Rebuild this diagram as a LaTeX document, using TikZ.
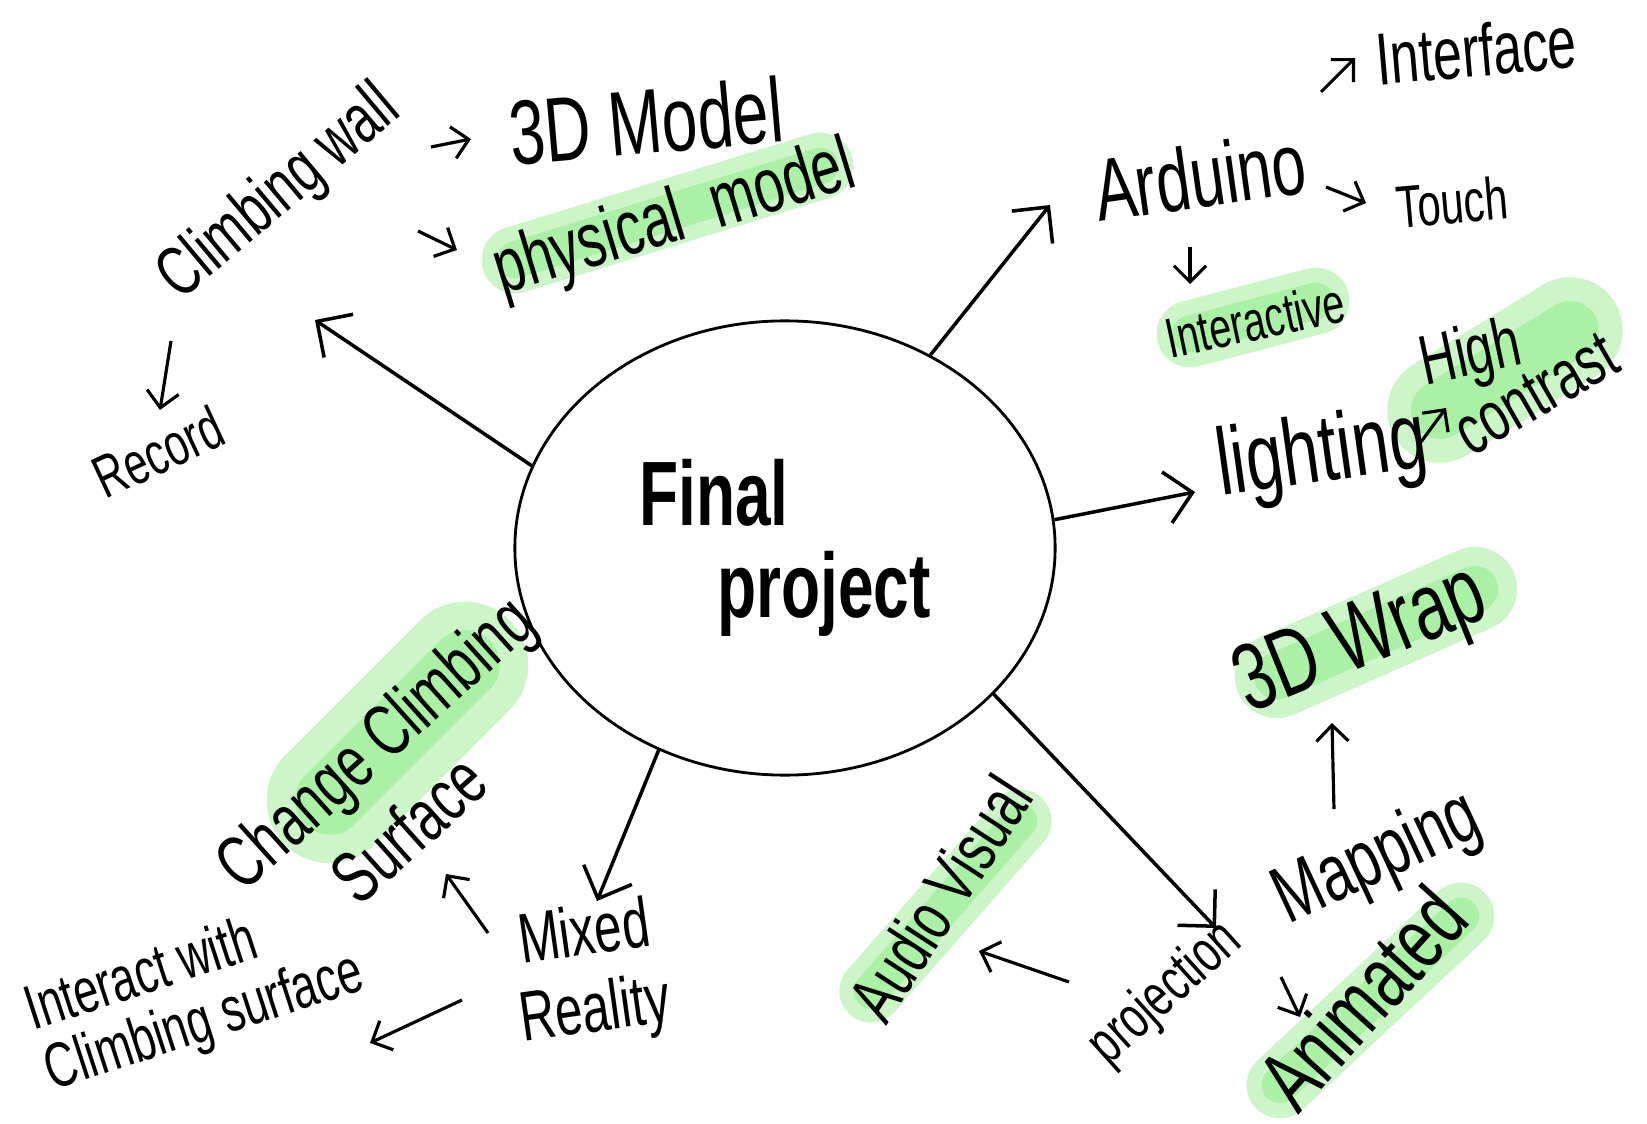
\documentclass[tikz,border=0pt]{standalone}
\usepackage{fontspec}
\newfontfamily\hand{Liberation Sans}[FakeStretch=0.7]
\usetikzlibrary{shapes.geometric,arrows.meta}
\definecolor{hlgreen}{RGB}{110,232,100}
\tikzset{
  hw/.style={font=\hand\fontsize{#1}{#1}\selectfont, inner sep=0pt},
  hl/.style={draw=hlgreen, line cap=round, draw opacity=0.35},
  big/.style={->, line width=1pt},
  small/.style={->, line width=0.9pt, >={Straight Barb[length=1.6mm,width=3.2mm]}}
}

\begin{document}
\begin{tikzpicture}[x=0.01cm, y=-0.01cm, >={Straight Barb[length=2.6mm,width=5.2mm]}]
\path[use as bounding box, fill=white] (0,0) rectangle (1647,1124);
% highlighter marks
\foreach \ax/\ay/\bx/\by/\w in {515/260/820/166/19, 1190/334/1316/301/19, 1440/410/1570/330/30,
  1277/676/1475/589/24, 1280/1085/1461/916/19, 871/991/1020/821/18, 330/800/465/665/36}
{
  \draw[hl, line width=\w*1pt] (\ax,\ay) -- (\bx,\by);
  \draw[hl, line width=0.55*\w*1pt] (\ax,\ay) -- (\bx,\by);
}

\node[ellipse, draw, line width=0.8pt, minimum width=5.4cm, minimum height=4.54cm, hw=26, align=left] (fp) at (785,548) {\bfseries Final\\\bfseries\hspace*{0.78cm}project};

\node[hw=20, rotate=40] (climb) at (280,194) {Climbing wall};
\node[hw=26, rotate=5] (model3d) at (646,121) {3D Model};
\node[hw=22, rotate=17] (physical) at (675,221) {physical\ \ model};
\node[hw=17, rotate=25] (record) at (158,452) {Record};
\node[hw=25, rotate=8] (arduino) at (1200,176) {Arduino};
\node[hw=21, rotate=5] (interface) at (1476,50) {Interface};
\node[hw=17, rotate=5] (touch) at (1452,202) {Touch};
\node[hw=16, rotate=12] (interactive) at (1255,320) {Interactive};
\node[hw=27, rotate=8] (lighting) at (1322,457) {lighting};
\node[hw=20, rotate=12] (high) at (1471,357) {High};
\node[hw=20, rotate=30] (contrast) at (1536,394) {contrast};
\node[hw=27, rotate=22] (wrap) at (1362,643) {3D Wrap};
\node[hw=17, rotate=42] (projection) at (1166,994) {projection};
\node[hw=23, rotate=25] (mapping) at (1378,860) {Mapping};
\node[hw=25, rotate=48] (animated) at (1362,998) {Animated};
\node[hw=20, rotate=57] (audio) at (940,898) {Audio Visual};
\node[hw=20, rotate=8, align=center] (mixed) at (590,975) {Mixed\\[2pt]Reality};
\node[hw=21, rotate=42, align=center] (change) at (403,774) {Change Climbing\\[4pt]Surface\hspace*{0.65cm}};
\node[hw=18, rotate=18, align=left] (interact) at (195,994) {Interact with\\Climbing surface};

% big arrows out of the ellipse
\coordinate (climb-tip) at (315,320);
\coordinate (arduino-tip) at (1050,205);
\coordinate (lighting-tip) at (1195,492);
\coordinate (projection-tip) at (1216,928);
\coordinate (mixed-tip) at (597,901);
\draw[big] (fp.162) -- (climb-tip);
\draw[big] (fp.53) -- (arduino-tip);
\draw[big] (fp.6) -- (lighting-tip);
\draw[big] (fp.-35) -- (projection-tip);
\draw[big] (fp.238) -- (mixed-tip);

% little arrows between the words
\coordinate (s1-a) at (431,147);   \coordinate (s1-b) at (471,139);
\coordinate (s2-a) at (418,231);   \coordinate (s2-b) at (457,250);
\coordinate (s3-a) at (171,341);   \coordinate (s3-b) at (160,410);
\coordinate (s4-a) at (1321,92);   \coordinate (s4-b) at (1355,58);
\coordinate (s5-a) at (1326,187);  \coordinate (s5-b) at (1366,203);
\coordinate (s6-a) at (1190,247);  \coordinate (s6-b) at (1190,284);
\coordinate (s7-a) at (1418,446);  \coordinate (s7-b) at (1446,408);
\coordinate (s8-a) at (1334,809);  \coordinate (s8-b) at (1332,723);
\coordinate (s9-a) at (1281,977);  \coordinate (s9-b) at (1300,1017);
\coordinate (s10-a) at (1069,982); \coordinate (s10-b) at (979,951);
\coordinate (s11-a) at (488,933);  \coordinate (s11-b) at (446,874);
\coordinate (s12-a) at (462,1000); \coordinate (s12-b) at (370,1043);
\foreach \i in {1,...,12}
  \draw[small] (s\i-a) -- (s\i-b);
\end{tikzpicture}
\end{document}
